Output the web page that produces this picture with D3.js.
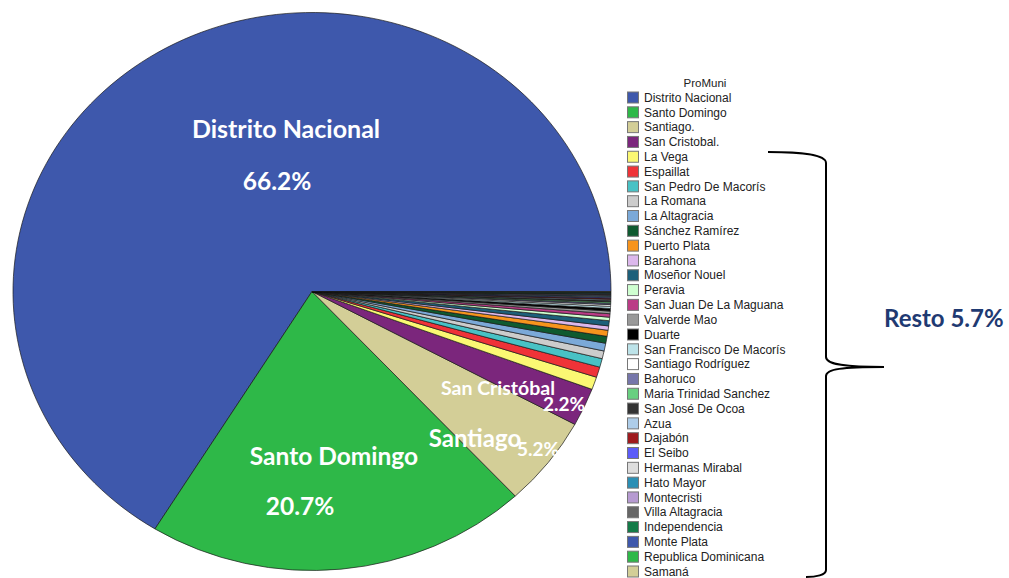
<!DOCTYPE html>
<html>
<head>
<meta charset="utf-8">
<script src="https://d3js.org/d3.v7.min.js"></script>
<style>
  html, body { margin: 0; padding: 0; background: #fff; }
</style>
</head>
<body>
<div id="chart"></div>
<script>
// categorias (ProMuni) y porcentajes
const categories = ["Distrito Nacional", "Santo Domingo", "Santiago.", "San Cristobal.", "La Vega",
  "Espaillat", "San Pedro De Macorís", "La Romana", "La Altagracia", "Sánchez Ramírez",
  "Puerto Plata", "Barahona", "Moseñor Nouel", "Peravia", "San Juan De La Maguana",
  "Valverde Mao", "Duarte", "San Francisco De Macorís", "Santiago Rodríguez", "Bahoruco",
  "Maria Trinidad Sanchez", "San José De Ocoa", "Azua", "Dajabón", "El Seibo",
  "Hermanas Mirabal", "Hato Mayor", "Montecristi", "Villa Altagracia", "Independencia",
  "Monte Plata", "Republica Dominicana", "Samaná"];
const values = [66.2, 20.7, 5.2, 2.2, 0.73,
  0.6, 0.5, 0.45, 0.45, 0.4,
  0.35, 0.25, 0.3, 0.2, 0.2,
  0.15, 0.15, 0.12, 0.1, 0.08,
  0.08, 0.07, 0.07, 0.06, 0.06,
  0.05, 0.05, 0.05, 0.04, 0.04,
  0.04, 0.03, 0.03];
const colors = ["#3e58ac", "#2eb848", "#d3ce97", "#7b267c", "#fbf873",
  "#ef3338", "#48c2c5", "#cccccc", "#7ba9d8", "#0f5a30",
  "#f7941d", "#dcb8ec", "#1d5f7a", "#cfffd0", "#bb3c86",
  "#999999", "#000000", "#bde3e9", "#ffffff", "#7676aa",
  "#69cf80", "#333333", "#aecde9", "#9f1a1e", "#5c5cf8",
  "#dddddd", "#2b8fb5", "#b69ad1", "#666666", "#147b48",
  "#3e58ac", "#2eb848", "#d3ce97"];
const pieLabels = ["Distrito Nacional", "66.2%", "Santo Domingo", "20.7%", "Santiago", "5.2%", "San Cristóbal", "2.2%"];
const restoLabel = "Resto 5.7%";
const legendTitle = "ProMuni";

const width = 1009, height = 578;
const svg = d3.select("#chart").append("svg")
  .attr("width", width)
  .attr("height", height);

// pastel (elipse: circulo escalado)
const cx = 312, cy = 291.5, rx = 299, ry = 279;
const pie = d3.pie().sort(null).value(d => d)
  .startAngle(Math.PI / 2).endAngle(Math.PI / 2 - 2 * Math.PI);
const arc = d3.arc().innerRadius(0).outerRadius(ry);

const gPie = svg.append("g")
  .attr("transform", "translate(" + cx + "," + cy + ") scale(" + (rx / ry) + ",1)");
gPie.selectAll("path").data(pie(values)).enter()
  .append("path")
  .attr("d", arc)
  .attr("fill", (d, i) => colors[i])
  .attr("stroke", "#1a1a1a")
  .attr("stroke-width", 0.7)
  .attr("vector-effect", "non-scaling-stroke");

// etiquetas del pastel
const lblFont = "Lato, 'Open Sans', sans-serif";
const lblPos = [
  [286, 138, 25], [277, 190, 24.5],
  [334, 465, 24.5], [300, 515, 24.5],
  [475, 447, 24], [538, 456, 19],
  [498, 395, 19.5], [564, 411, 19]
];
svg.append("g").selectAll("text").data(pieLabels).enter()
  .append("text")
  .attr("x", (d, i) => lblPos[i][0])
  .attr("y", (d, i) => lblPos[i][1])
  .attr("text-anchor", "middle")
  .attr("font-family", lblFont)
  .attr("font-weight", "bold")
  .attr("font-size", (d, i) => lblPos[i][2])
  .attr("fill", "#fff")
  .text(d => d);

// leyenda
const legend = svg.append("g").attr("font-family", "'Liberation Sans', Arial, sans-serif");
legend.append("text")
  .attr("x", 705).attr("y", 87)
  .attr("text-anchor", "middle")
  .attr("font-size", 11.5)
  .attr("fill", "#222")
  .text(legendTitle);
const ly = d3.scaleLinear().domain([0, categories.length - 1]).range([97.5, 571.5]);
const item = legend.selectAll("g.item").data(categories).enter()
  .append("g").attr("class", "item")
  .attr("transform", (d, i) => "translate(627," + ly(i) + ")");
item.append("rect")
  .attr("x", 0.5).attr("y", -5.5)
  .attr("width", 11).attr("height", 11)
  .attr("fill", (d, i) => colors[i])
  .attr("stroke", "#777")
  .attr("stroke-width", 1);
item.append("text")
  .attr("x", 17).attr("y", 4.2)
  .attr("font-size", 12)
  .attr("fill", "#222")
  .text(d => d);

// llave "Resto"
svg.append("path")
  .attr("d", "M768,152 C800,152 826,154 826,163 L826,357 C826,364 842,367 884,367"
    + " C842,367 826,369 826,376 L826,570 C826,575 816,577 806,577")
  .attr("fill", "none")
  .attr("stroke", "#000")
  .attr("stroke-width", 2);
svg.append("text")
  .attr("x", 884).attr("y", 327)
  .attr("font-family", lblFont)
  .attr("font-weight", "bold")
  .attr("font-size", 24)
  .attr("fill", "#1f3a72")
  .text(restoLabel);
</script>
</body>
</html>
